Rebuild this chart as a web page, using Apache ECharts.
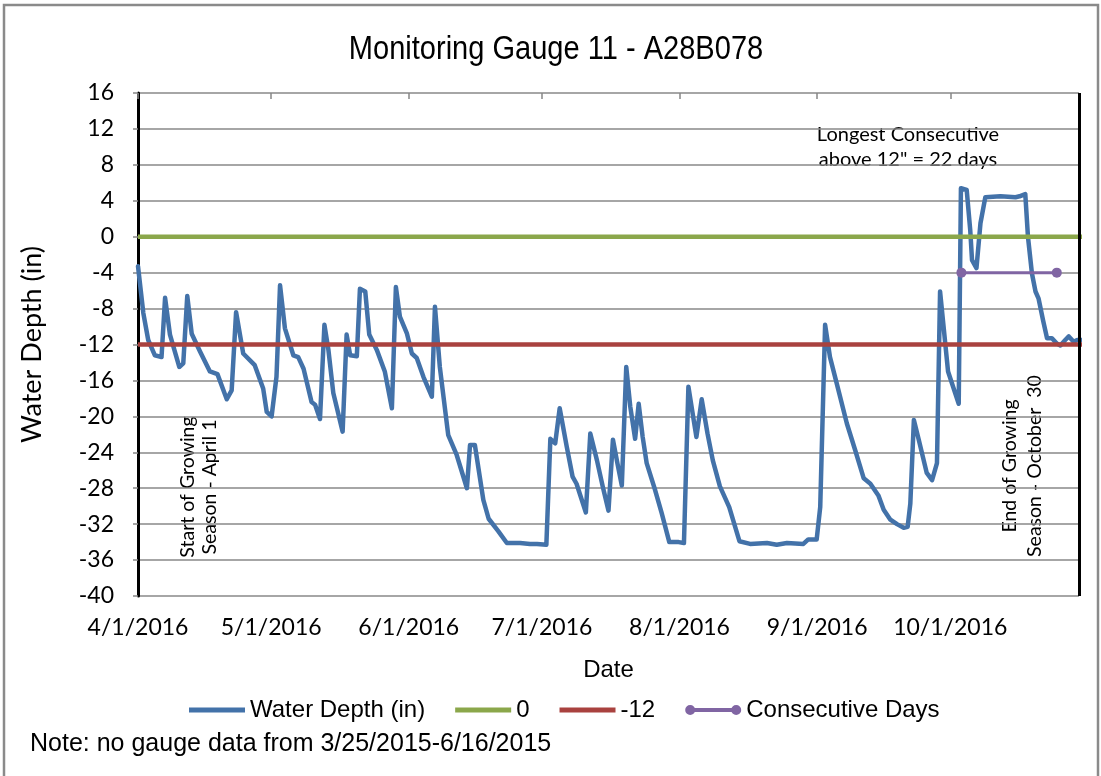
<!DOCTYPE html>
<html>
<head>
<meta charset="utf-8">
<script src="https://cdn.jsdelivr.net/npm/echarts@6/dist/echarts.min.js"></script>
<style>
  html, body { margin: 0; padding: 0; background: #fff; }
  #chart { width: 1101px; height: 776px; }
</style>
</head>
<body>
<div id="chart"></div>
<script>
// x values are days counted from 4/1/2016
const days = [
  0, 1.2, 2.3, 3.8, 5.3, 6.1, 7.2, 9.3, 10.2, 11.1, 12.1, 14, 16.2, 17.9, 20, 21.1, 22.1, 23.7,
  26.3, 28.2, 29, 30.1, 31.2, 32, 33.1, 35, 36.1, 37.3, 39.1, 39.9, 41, 42, 42.9, 44, 46.1, 47,
  47.8, 49.3, 50, 51.2, 52.1, 53.8, 55.6, 57.2, 58.1, 59, 60.6, 61.7, 62.8, 64.3, 66.2, 66.9,
  68, 69.9, 71.8, 74.1, 74.8, 75.9, 77.8, 79, 81.2, 83.1, 86.1, 88.3, 89.9, 92, 92.9, 94, 95,
  96.6, 97.9, 98.8, 100.9, 101.9, 103.4, 104.7, 106, 107, 108, 109, 110, 110.9, 112, 112.8,
  113.7, 114.6, 116.5, 118, 119.7, 121.8, 123, 124, 125.8, 127, 128.3, 129.5, 131.1, 133.2,
  135.5, 137.9, 141.7, 143.9, 146.2, 149.9, 151, 152.9, 153.7, 154.8, 155.9, 157.4, 159.7,
  161.6, 163.5, 165, 166.8, 168, 169.5, 171, 172.5, 173.4, 174, 174.8, 175.9, 177.7, 178.9,
  180, 180.7, 182.5, 184.9, 185.4, 186.7, 187.5, 187.9, 188.9, 189.8, 190.9, 194.3, 197.7,
  198.6, 199.9, 200.5, 201.4, 202.2, 202.9, 203.9, 204.8, 205.9, 207, 207.8, 208.9, 209.7,
  210.8, 211.6, 212.7, 213.5
]
const depth = [
  -3.3, -8.5, -11.5, -13.2, -13.4, -6.8, -10.9, -14.5, -14.1, -6.6, -10.8, -12.8, -15.0, -15.3,
  -18.1, -17.1, -8.4, -13.0, -14.3, -16.9, -19.5, -20.0, -15.6, -5.4, -10.2, -13.2, -13.4,
  -14.7, -18.4, -18.7, -20.3, -9.8, -12.6, -17.4, -21.7, -10.9, -13.2, -13.3, -5.8, -6.1,
  -10.9, -12.6, -15.0, -19.1, -5.6, -8.9, -10.8, -13.0, -13.5, -15.6, -17.8, -7.8, -14.5,
  -22.1, -24.3, -28.0, -23.2, -23.2, -29.3, -31.4, -32.8, -34.1, -34.1, -34.2, -34.2, -34.3,
  -22.5, -23.0, -19.1, -23.4, -26.7, -27.5, -30.7, -21.9, -24.9, -27.8, -30.5, -22.6, -25.2,
  -27.7, -14.5, -18.9, -22.5, -18.6, -22.3, -25.2, -28.2, -30.8, -34.0, -34.0, -34.1, -16.7,
  -22.3, -18.1, -21.9, -24.9, -27.8, -30.1, -33.9, -34.2, -34.1, -34.3, -34.1, -34.2, -33.7,
  -33.7, -30.1, -9.8, -13.4, -16.3, -20.8, -23.8, -26.9, -27.5, -28.8, -30.4, -31.5, -32.0,
  -32.4, -32.3, -29.7, -20.4, -22.6, -26.3, -27.1, -25.2, -6.1, -15.0, -18.6, 5.4, 5.2, 0.7,
  -2.6, -3.5, 1.5, 4.4, 4.5, 4.4, 4.5, 4.75, 0.0, -4.1, -6.1, -6.9, -9.3, -11.3, -11.3, -11.9,
  -12.1, -11.5, -11.1, -11.7, -11.5, -11.5, -11.8
]

const refDays = [0, 213]
const zeroLine = [0, 0]
const minus12Line = [-12, -12]

const consecDays = [185.5, 207]
const consecValues = [-4, -4]

const monthDays = [0, 30, 61, 91, 122, 153, 183]
const monthLabels = ['4/1/2016', '5/1/2016', '6/1/2016', '7/1/2016', '8/1/2016', '9/1/2016', '10/1/2016']
const seasonEndDay = 212

const pairs = (xs, ys) => xs.map((x, i) => [x, ys[i]])

const sans = '"Liberation Sans", Arial, sans-serif'
const regular = 'Lato, "Open Sans", sans-serif'

const lineIcon = 'path://M0,2.5h56v5H0z'
// both dots and the bar are drawn clockwise so the overlap stays filled
const dotIcon = 'path://M0,5a5,5 0 1,1 10,0a5,5 0 1,1 -10,0zM46,5a5,5 0 1,1 10,0a5,5 0 1,1 -10,0zM5,3h46v4H5z'

const chart = echarts.init(document.getElementById('chart'), null, { renderer: 'canvas' })

chart.setOption({
  animation: false,
  backgroundColor: '#fff',
  grid: {
    left: 138,
    right: 22,
    top: 93,
    bottom: 180,
    containLabel: false,
    outerBoundsMode: 'none'
  },
  legend: {
    left: 184,
    top: 693,
    itemWidth: 56,
    itemHeight: 10,
    itemGap: 30,
    textStyle: { fontFamily: sans, fontSize: 24, color: '#000' },
    data: [
      { name: 'Water Depth (in)', icon: lineIcon },
      { name: '0', icon: lineIcon },
      { name: '-12', icon: lineIcon },
      { name: 'Consecutive Days', icon: dotIcon }
    ]
  },
  xAxis: [
    {
      type: 'value',
      min: 0,
      max: seasonEndDay,
      position: 'bottom',
      name: 'Date',
      nameLocation: 'middle',
      nameGap: 62,
      nameTextStyle: { fontFamily: sans, fontSize: 24, color: '#000' },
      axisLine: { show: false },
      axisTick: { show: false },
      splitLine: { show: false },
      axisLabel: {
        customValues: monthDays,
        formatter: (v) => monthLabels[monthDays.indexOf(v)] || '',
        fontFamily: regular,
        fontSize: 23,
        color: '#000',
        margin: 20
      }
    },
    {
      type: 'value',
      min: 0,
      max: seasonEndDay,
      position: 'top',
      axisLine: { show: true, onZero: true, lineStyle: { opacity: 0 } },
      axisTick: {
        show: true,
        inside: true,
        length: 6,
        customValues: monthDays,
        lineStyle: { color: '#868686', width: 1.5 }
      },
      axisLabel: { show: false },
      splitLine: { show: false }
    }
  ],
  yAxis: {
    type: 'value',
    min: -40,
    max: 16,
    interval: 4,
    name: 'Water Depth (in)',
    nameLocation: 'middle',
    nameGap: 92,
    nameTextStyle: { fontFamily: regular, fontSize: 27, color: '#000' },
    axisLine: { show: true, lineStyle: { color: '#000', width: 3 } },
    axisTick: { show: true, length: 5, lineStyle: { color: '#868686', width: 1.5 } },
    axisLabel: { fontFamily: regular, fontSize: 23, color: '#000', margin: 24 },
    splitLine: { show: true, lineStyle: { color: '#898989', width: 1.5 } }
  },
  series: [
    {
      name: 'Water Depth (in)',
      type: 'line',
      data: pairs(days, depth),
      showSymbol: false,
      clip: false,
      color: '#4372A9',
      lineStyle: { width: 4.5, cap: 'round', join: 'round' },
      markLine: {
        silent: true,
        symbol: 'none',
        label: { show: false },
        lineStyle: { color: '#000', width: 3, type: 'solid' },
        data: [{ xAxis: seasonEndDay }]
      }
    },
    {
      name: '0',
      type: 'line',
      data: pairs(refDays, zeroLine),
      showSymbol: false,
      clip: false,
      color: '#8BA74B',
      lineStyle: { width: 4.5 }
    },
    {
      name: '-12',
      type: 'line',
      data: pairs(refDays, minus12Line),
      showSymbol: false,
      clip: false,
      color: '#A9423F',
      lineStyle: { width: 4.5 }
    },
    {
      name: 'Consecutive Days',
      type: 'line',
      data: pairs(consecDays, consecValues),
      symbol: 'circle',
      symbolSize: 10,
      color: '#8065A3',
      lineStyle: { width: 3 }
    }
  ],
  graphic: [
    {
      type: 'rect',
      silent: true,
      shape: { x: 4, y: 5, width: 1094, height: 800 },
      style: { fill: 'none', stroke: '#8a8a8a', lineWidth: 2.5 }
    },
    {
      type: 'text',
      x: 556,
      y: 50,
      scaleX: 0.88,
      style: {
        text: 'Monitoring Gauge 11 - A28B078',
        font: '33px ' + sans,
        fill: '#000',
        align: 'center',
        verticalAlign: 'middle'
      }
    },
    {
      type: 'text',
      x: 908,
      y: 147,
      style: {
        text: 'Longest Consecutive\nabove 12" = 22 days',
        font: '20px ' + regular,
        fill: '#000',
        align: 'center',
        verticalAlign: 'middle',
        lineHeight: 25
      }
    },
    {
      type: 'text',
      x: 199,
      y: 487,
      rotation: Math.PI / 2,
      style: {
        text: 'Start of Growing\nSeason - April 1',
        font: '19.5px ' + regular,
        fill: '#000',
        align: 'center',
        verticalAlign: 'middle',
        lineHeight: 22
      }
    },
    {
      type: 'text',
      x: 1022,
      y: 466,
      rotation: Math.PI / 2,
      style: {
        text: 'End of Growing\nSeason - October  30',
        font: '19.5px ' + regular,
        fill: '#000',
        align: 'center',
        verticalAlign: 'middle',
        lineHeight: 25
      }
    },
    {
      type: 'text',
      left: 30,
      top: 732,
      style: {
        text: 'Note: no gauge data from 3/25/2015-6/16/2015',
        font: '25px ' + sans,
        fill: '#000'
      }
    }
  ]
})
</script>
</body>
</html>
